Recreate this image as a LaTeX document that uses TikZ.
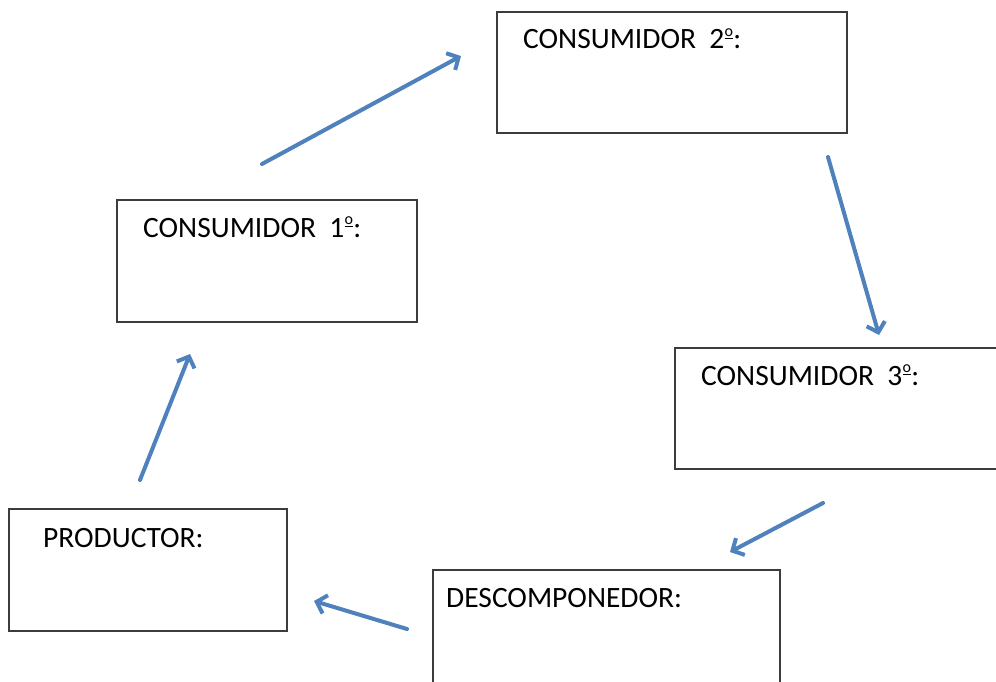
\documentclass[tikz,border=0pt]{standalone}
\usepackage{fontspec}
\setmainfont{Carlito}
\usetikzlibrary{arrows.meta}
\definecolor{arrblue}{RGB}{79,129,189}
\definecolor{boxline}{RGB}{60,60,60}
\newcommand\ordo{\hbox to 9pt{\hss\raisebox{9.6pt}{\rlap{\rule{8.4pt}{1.7pt}}}\raisebox{12.3pt}{\fontsize{16}{16}\selectfont o}\hss}}
\tikzset{
  box/.style={draw=boxline, line width=1.6pt, minimum width=#1, inner sep=0pt, rectangle},
  lbl/.style={anchor=base west, inner sep=0pt, font=\fontsize{29.5}{34}\selectfont},
  flow/.style={draw=arrblue, line width=4pt, line cap=round,
    -{Straight Barb[length=9pt,width=19pt,line width=4pt]}}
}
\begin{document}
\begin{tikzpicture}[x=1pt,y=-1pt]
\useasboundingbox (0,0) rectangle (996,682);
\clip (0,0) rectangle (996,682);
\fill[white] (0,0) rectangle (996,682);
% boxes
\node[box=350pt, minimum height=121pt] (c2) at (672,72.5) {};
\node[box=300pt, minimum height=122pt] (c1) at (267,261) {};
\node[box=335pt, minimum height=121pt] (c3) at (842.5,408.5) {};
\node[box=278pt, minimum height=122pt] (prod) at (148,570) {};
\node[box=347pt, minimum height=130pt] (desc) at (606.5,635) {};
% labels
\node[lbl] (t2) at (523,49) {CONSUMIDOR~~2\ordo:};
\node[lbl] (t1) at (143,237) {CONSUMIDOR~~1\ordo:};
\node[lbl] (t3) at (701,385) {CONSUMIDOR~~3\ordo:};
\node[lbl] (tp) at (43,547) {PRODUCTOR:};
\node[lbl] (td) at (446,607) {DESCOMPONEDOR:};
% arrow end points
\coordinate (a1s) at (262,164); \coordinate (a1e) at (461,56);
\coordinate (a2s) at (828,157); \coordinate (a2e) at (879,335);
\coordinate (a3s) at (823,503); \coordinate (a3e) at (730,552);
\coordinate (a4s) at (407,629); \coordinate (a4e) at (314,601);
\coordinate (a5s) at (140,480); \coordinate (a5e) at (190,354);
\draw[flow] (a1s) -- (a1e);
\draw[flow] (a2s) -- (a2e);
\draw[flow] (a3s) -- (a3e);
\draw[flow] (a4s) -- (a4e);
\draw[flow] (a5s) -- (a5e);
\end{tikzpicture}
\end{document}
